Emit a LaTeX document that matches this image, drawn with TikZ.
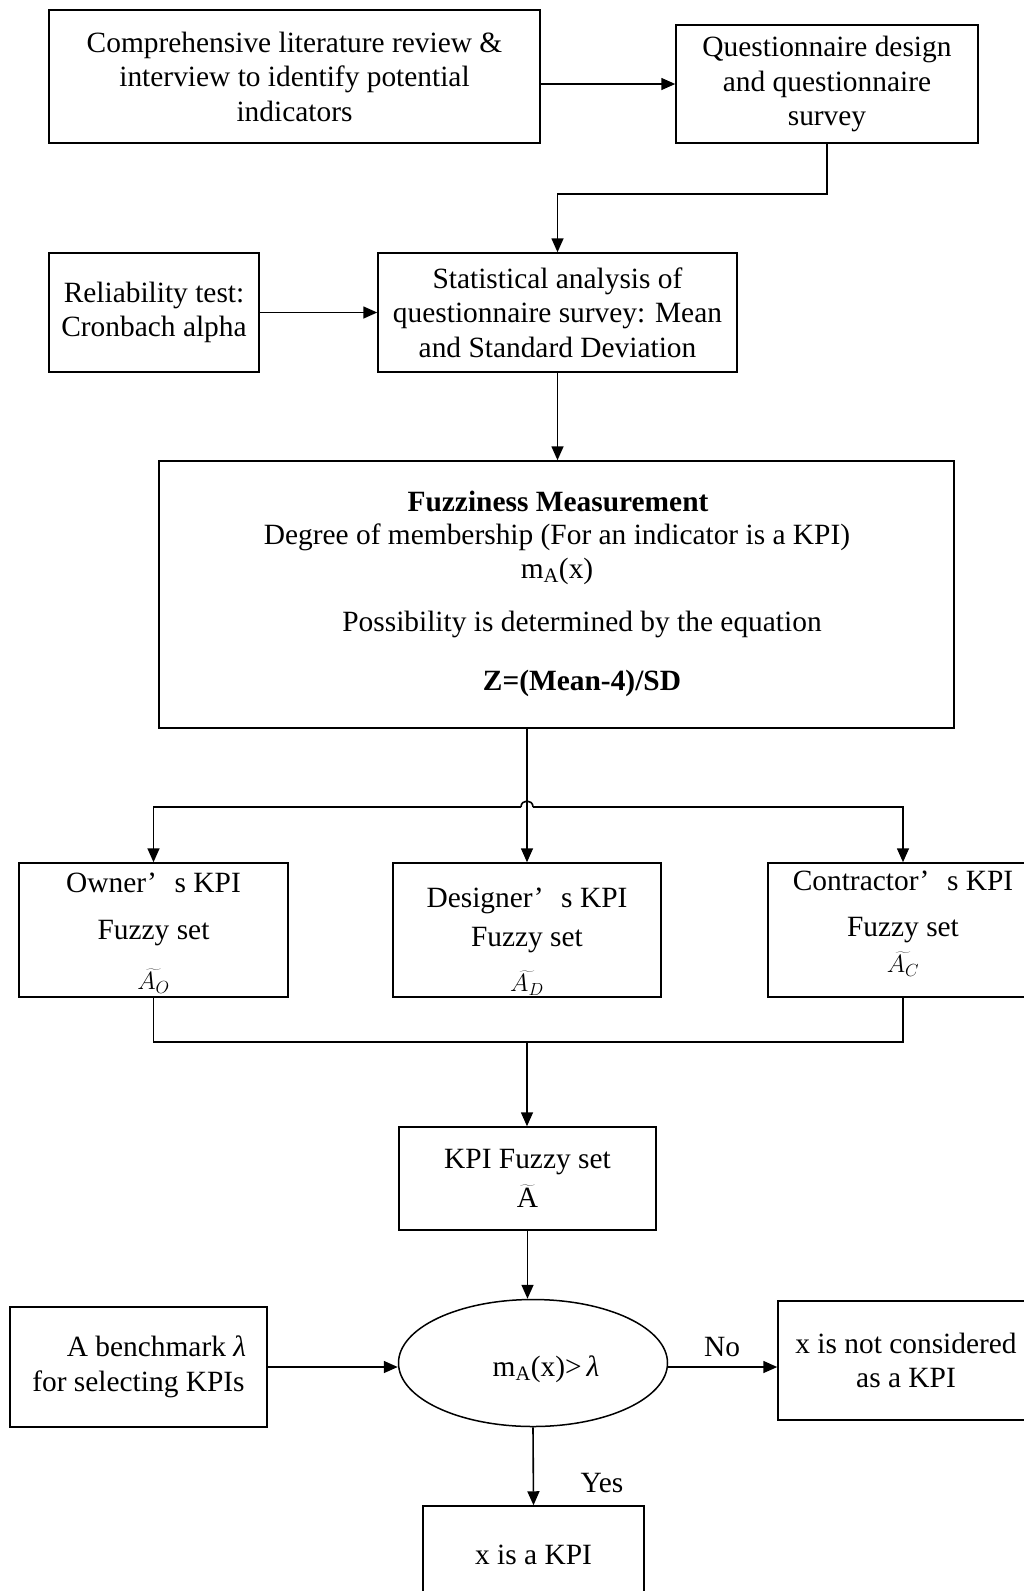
\RequirePackage{fix-cm}
\documentclass[tikz,border=0pt]{standalone}
\usepackage{fontspec}
\setmainfont{Liberation Serif}
\usetikzlibrary{arrows.meta,shapes.geometric,calc}

\newcommand\diagfont{\fontsize{29.4}{34.5}\selectfont}
\newcommand\symfont{\fontsize{25}{27}\selectfont}
\newcommand\lam{\textit{λ}}

\begin{document}
\begin{tikzpicture}[x=1pt,y=-1pt,
  every node/.style={font=\diagfont},
  box/.style={draw, line width=1.5pt, rectangle, inner sep=0pt, align=center},
  txt/.style={align=center, inner sep=0pt},
  link/.style={line width=1.6pt},
  arr/.style={link, -{Triangle[length=14pt,width=12pt]}},
]
\useasboundingbox (0,0) rectangle (1024,1591);

% --- top row
\node[box, minimum width=491pt, minimum height=133pt] (lit) at (294.5,76.5)
  {Comprehensive literature review \&\\interview to identify potential\\indicators};
\node[box, minimum width=302pt, minimum height=118pt] (quest) at (827,84)
  {Questionnaire design\\and questionnaire\\survey};

% --- statistics row
\node[box, minimum width=210pt, minimum height=119pt] (rel) at (154,312.5)
  {Reliability test:\\Cronbach alpha};
\node[box, minimum width=359pt, minimum height=119pt] (stat) at (557.5,312.5)
  {Statistical analysis of\\questionnaire survey: Mean\\and Standard Deviation};

% --- fuzziness measurement
\node[box, minimum width=795pt, minimum height=267pt] (fuzzy) at (556.5,594.5) {};
\node[txt, font=\diagfont\bfseries] (fz1) at (558,501) {Fuzziness Measurement};
\node[txt] (fz2) at (557,537) {Degree of membership (For an indicator is a KPI)};
\node[txt] (fz3) at (557,571) {m\textsubscript{A}(x)};
\node[txt] (fz4) at (582,624) {Possibility is determined by the equation};
\node[txt, font=\diagfont\bfseries] (fz5) at (582,683) {Z=(Mean-4)/SD};

% --- stakeholder fuzzy sets
\node[box, minimum width=269pt, minimum height=134pt] (owner) at (153.5,930) {};
\node[box, minimum width=268pt, minimum height=134pt] (designer) at (527,930) {};
\node[box, minimum width=270pt, minimum height=134pt] (contr) at (903,930) {};

\node[txt] (ownerT) at (153.5,909.5) {Owner’\hspace{0.6em}s KPI\\[12pt]Fuzzy set};
\node[txt, font=\symfont] (ownerS) at (153.5,981) {$\widetilde{A_{O}}$};
\node[txt] (designerT) at (527,920.5) {Designer’\hspace{0.6em}s KPI\\[4.5pt]Fuzzy set};
\node[txt, font=\symfont] (designerS) at (527,983) {$\widetilde{A_{D}}$};
\node[txt] (contrT) at (903,907) {Contractor’\hspace{0.6em}s KPI\\[11pt]Fuzzy set};
\node[txt, font=\symfont] (contrS) at (903,964) {$\widetilde{A_{C}}$};

% --- aggregated set
\node[box, minimum width=257pt, minimum height=103pt] (kpi) at (527.5,1178.5)
  {KPI Fuzzy set\\[4pt]$\widetilde{\,\mathrm{A}\,}$};

% --- decision
\node[box, minimum width=257pt, minimum height=120pt] (bench) at (138.5,1367)
  {\hspace*{36pt}A benchmark \lam\\for selecting KPIs};
\node[draw, ellipse, line width=1.5pt, minimum width=269pt, minimum height=127pt,
  inner sep=0pt] (dec) at (533,1363) {};
\node[txt] (decT) at (546,1369) {m\textsubscript{A}(x)>\,\lam};
\node[box, minimum width=256pt, minimum height=119pt] (notkpi) at (906,1360.5)
  {x is not considered\\as a KPI};
\node[box, minimum width=221pt, minimum height=98pt] (iskpi) at (533.5,1555)
  {x is a KPI};
\node[txt] (nolbl) at (722,1347) {No};
\node[txt] (yeslbl) at (602,1483) {Yes};

% --- connectors
\coordinate (hop) at (527,807);
\coordinate (merge) at (527,1042);

\draw[arr] (lit.east |- quest.west) -- (quest.west);
\draw[arr] (quest.south) -- ++(0,50) -| (stat.north);
\draw[arr] (rel.east) -- (stat.west);
\draw[arr] (stat.south) -- (stat.south |- fuzzy.north);

\draw[arr] (fuzzy.south -| designer.north) -- (designer.north);
\draw[arr] ($(hop)+(-6,0)$) -| (owner.north);
\draw[arr] ($(hop)+(6,0)$) -| (contr.north);
\draw[link] ($(hop)+(-6,0)$) .. controls ($(hop)+(-6,-8)$) and ($(hop)+(6,-8)$) .. ($(hop)+(6,0)$);

\draw[link] (owner.south) |- (merge) -| (contr.south);
\draw[arr] (merge) -- (merge |- kpi.north);

\draw[arr] (kpi.south) -- (kpi.south |- dec.north);
\draw[arr] (bench.east) -- (bench.east -| dec.west);
\draw[arr] (bench.east -| dec.east) -- (bench.east -| notkpi.west);
\draw[arr] (dec.south) -- (iskpi.north);
\end{tikzpicture}
\end{document}
